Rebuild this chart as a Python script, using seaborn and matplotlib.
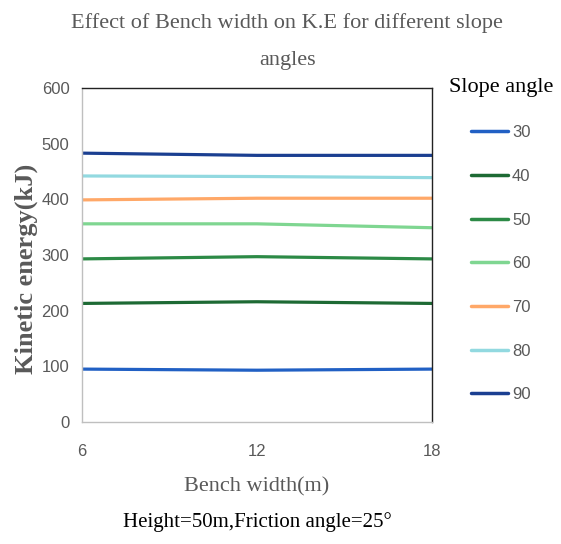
import matplotlib
matplotlib.use("Agg")
import matplotlib.pyplot as plt
import seaborn as sns
import pandas as pd
from matplotlib import font_manager as fm

bench_width = [6, 12, 18]
slope_angles = ["30", "40", "50", "60", "70", "80", "90"]
ke_30 = [95, 93, 95]
ke_40 = [213, 216, 213]
ke_50 = [293, 297, 293]
ke_60 = [356, 356, 349]
ke_70 = [399, 402, 402]
ke_80 = [442, 441, 439]
ke_90 = [483, 479, 479]
colors = ["#2160c4", "#1d6a34", "#2c8a46", "#7fd691", "#ffa868", "#92d9e0", "#1b3f91"]

series = [ke_30, ke_40, ke_50, ke_60, ke_70, ke_80, ke_90]
rows = []
for ang, vals in zip(slope_angles, series):
    for w, v in zip(bench_width, vals):
        rows.append({"Bench width": w, "KE": v, "Slope angle": ang})
df = pd.DataFrame(rows)

sns.set_theme(style="white")
names = {f.name for f in fm.fontManager.ttflist}
narrow = "Liberation Sans Narrow" if "Liberation Sans Narrow" in names else "Liberation Sans"
serif = "Liberation Serif"
plt.rcParams["font.family"] = [narrow, "DejaVu Sans"]

fig = plt.figure(figsize=(5.61, 5.44), dpi=100)
ax = fig.add_axes([0.146, 0.2243, 0.624, 0.6139])

sns.lineplot(data=df, x="Bench width", y="KE", hue="Slope angle",
             palette=dict(zip(slope_angles, colors)), linewidth=2.3, ax=ax, legend=False)

ax.set_xlim(6, 18)
ax.set_ylim(0, 600)
ax.set_xticks(bench_width)
ax.set_yticks([0, 100, 200, 300, 400, 500, 600])
ax.tick_params(axis="both", labelsize=12, colors="#595959", length=0)
ax.tick_params(axis="y", pad=9)
ax.tick_params(axis="x", pad=16)
for s in ["left", "bottom"]:
    ax.spines[s].set_color("#bfbfbf")
    ax.spines[s].set_linewidth(1.0)
for s in ["top", "right"]:
    ax.spines[s].set_color("#222222")
    ax.spines[s].set_linewidth(1.0)
ax.set_xlabel("")
ax.set_ylabel("")

fig.text(0.046, 0.505, "Kinetic energy(kJ)", rotation=90, ha="center", va="center",
         family=serif, fontsize=19, color="#595959", fontweight="bold")
fig.text(0.458, 0.105, "Bench width(m)", ha="center", va="center",
         family=serif, fontsize=16, color="#595959")
fig.text(0.458, 0.040, "Height=50m,Friction angle=25°", ha="center", va="center",
         family=serif, fontsize=15, color="black")
fig.text(0.512, 0.958, "Effect of Bench width on K.E for different slope", ha="center",
         va="center", family=serif, fontsize=16, color="#595959")
fig.text(0.512, 0.888, "angles", ha="center", va="center",
         family=serif, fontsize=16, color="#595959")

handles = [plt.Line2D([], [], color=c, linewidth=2.5) for c in colors]
leg = fig.legend(handles, slope_angles, loc="upper left", bbox_to_anchor=(0.773, 0.885),
                 frameon=False, fontsize=12, labelspacing=1.72, handlelength=2.2,
                 handletextpad=0.25, title="Slope angle")
leg.get_title().set_family(serif)
leg.get_title().set_fontsize(16)
leg.get_title().set_color("black")
leg._legend_box.align = "center"
for t in leg.get_texts():
    t.set_color("#595959")

fig.savefig("out.png", dpi=100)
